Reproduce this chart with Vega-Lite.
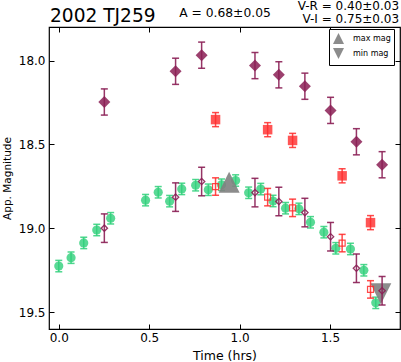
{
  "$schema": "https://vega.github.io/schema/vega-lite/v6.json",
  "width": 351,
  "height": 302,
  "autosize": "none",
  "padding": {"left": 49, "top": 27, "right": 1, "bottom": 33},
  "background": "white",
  "config": {
    "font": "DejaVu Sans",
    "view": {"stroke": "black", "strokeWidth": 1.2},
    "axis": {"grid": false, "domain": false, "tickColor": "black", "labelColor": "black", "titleColor": "black", "labelFontSize": 12, "titleFontWeight": "normal", "tickSize": -5, "tickWidth": 1}
  },
  "datasets": {
    "green": [
      {"t": 0.0, "m": 19.225, "e": 0.034},
      {"t": 0.068, "m": 19.175, "e": 0.034},
      {"t": 0.138, "m": 19.087, "e": 0.034},
      {"t": 0.21, "m": 19.01, "e": 0.034},
      {"t": 0.287, "m": 18.94, "e": 0.034},
      {"t": 0.48, "m": 18.832, "e": 0.034},
      {"t": 0.55, "m": 18.785, "e": 0.034},
      {"t": 0.613, "m": 18.838, "e": 0.034},
      {"t": 0.68, "m": 18.765, "e": 0.034},
      {"t": 0.757, "m": 18.743, "e": 0.034},
      {"t": 0.827, "m": 18.77, "e": 0.034},
      {"t": 0.9, "m": 18.74, "e": 0.034},
      {"t": 0.978, "m": 18.715, "e": 0.034},
      {"t": 1.05, "m": 18.788, "e": 0.034},
      {"t": 1.117, "m": 18.766, "e": 0.034},
      {"t": 1.185, "m": 18.837, "e": 0.034},
      {"t": 1.254, "m": 18.88, "e": 0.034},
      {"t": 1.328, "m": 18.884, "e": 0.034},
      {"t": 1.392, "m": 18.964, "e": 0.034},
      {"t": 1.466, "m": 19.023, "e": 0.034},
      {"t": 1.532, "m": 19.119, "e": 0.034},
      {"t": 1.613, "m": 19.123, "e": 0.034},
      {"t": 1.687, "m": 19.25, "e": 0.034},
      {"t": 1.753, "m": 19.444, "e": 0.034}
    ],
    "vband": [
      {"t": 0.252, "m": 18.247, "e": 0.078},
      {"t": 0.646, "m": 18.064, "e": 0.078},
      {"t": 0.79, "m": 17.968, "e": 0.078},
      {"t": 1.085, "m": 18.03, "e": 0.078},
      {"t": 1.217, "m": 18.085, "e": 0.078},
      {"t": 1.361, "m": 18.153, "e": 0.078},
      {"t": 1.503, "m": 18.297, "e": 0.078},
      {"t": 1.646, "m": 18.484, "e": 0.078},
      {"t": 1.788, "m": 18.621, "e": 0.078}
    ],
    "vshift": [
      {"t": 0.252, "m": 18.999, "e": 0.085},
      {"t": 0.646, "m": 18.814, "e": 0.085},
      {"t": 0.79, "m": 18.721, "e": 0.085},
      {"t": 1.085, "m": 18.787, "e": 0.085},
      {"t": 1.217, "m": 18.84, "e": 0.085},
      {"t": 1.361, "m": 18.906, "e": 0.085},
      {"t": 1.503, "m": 19.05, "e": 0.085},
      {"t": 1.646, "m": 19.238, "e": 0.085},
      {"t": 1.788, "m": 19.372, "e": 0.085}
    ],
    "rband": [
      {"t": 0.867, "m": 18.352, "e": 0.042},
      {"t": 1.155, "m": 18.412, "e": 0.042},
      {"t": 1.293, "m": 18.476, "e": 0.042},
      {"t": 1.567, "m": 18.687, "e": 0.042},
      {"t": 1.724, "m": 18.966, "e": 0.042}
    ],
    "rshift": [
      {"t": 0.867, "m": 18.751, "e": 0.052},
      {"t": 1.155, "m": 18.814, "e": 0.052},
      {"t": 1.293, "m": 18.878, "e": 0.052},
      {"t": 1.567, "m": 19.088, "e": 0.052},
      {"t": 1.724, "m": 19.364, "e": 0.052}
    ],
    "extrema": [
      {"t": 0.942, "m": 18.726, "kind": "max mag"},
      {"t": 1.781, "m": 19.39, "kind": "min mag"}
    ],
    "one": [{}]
  },
  "layer": [
    {
      "data": {"name": "green"},
      "mark": {"type": "errorbar", "ticks": {"size": 7, "color": "#2fd07a", "opacity": 0.85}, "color": "#2fd07a", "opacity": 0.85, "thickness": 1.5},
      "encoding": {
        "x": {"field": "t", "type": "quantitative", "scale": {"domain": [-0.054, 1.887], "nice": false, "zero": false}, "axis": null},
        "y": {"field": "m", "type": "quantitative", "scale": {"domain": [17.8, 19.6], "reverse": true, "nice": false, "zero": false}, "axis": null},
        "yError": {"field": "e"}
      }
    },
    {
      "data": {"name": "green"},
      "mark": {"type": "point", "shape": "circle", "filled": true, "size": 84, "color": "#2fd07a", "opacity": 0.8},
      "encoding": {
        "x": {"field": "t", "type": "quantitative", "scale": {"domain": [-0.054, 1.887], "nice": false, "zero": false},
          "axis": {"orient": "bottom", "values": [0, 0.5, 1, 1.5], "format": ".1f", "title": "Time (hrs)", "titleFontSize": 12.5, "labelPadding": 8, "titlePadding": 6}},
        "y": {"field": "m", "type": "quantitative", "scale": {"domain": [17.8, 19.6], "reverse": true, "nice": false, "zero": false},
          "axis": {"orient": "left", "values": [18, 18.5, 19, 19.5], "format": ".1f", "title": "App. Magnitude", "titleFontSize": 10.5, "labelPadding": 9, "titlePadding": 6}}
      }
    },
    {
      "data": {"name": "extrema"},
      "mark": {"type": "point", "filled": true, "size": 441, "color": "#808080", "opacity": 0.9},
      "encoding": {
        "x": {"field": "t", "type": "quantitative", "scale": {"domain": [-0.054, 1.887], "nice": false, "zero": false}, "axis": null},
        "y": {"field": "m", "type": "quantitative", "scale": {"domain": [17.8, 19.6], "reverse": true, "nice": false, "zero": false}, "axis": null},
        "shape": {"field": "kind", "type": "nominal",
          "scale": {"domain": ["max mag", "min mag"], "range": ["M0,-1L-1,1L1,1Z", "M0,1L-1,-1L1,-1Z"]},
          "legend": {"title": null, "orient": "none", "legendX": 280, "legendY": 2, "strokeColor": "black", "fillColor": "white", "padding": 3, "symbolSize": 121, "symbolFillColor": "#808080", "symbolStrokeColor": "#808080", "symbolOpacity": 0.9, "labelFontSize": 8, "labelOffset": 8, "rowPadding": -4}}
      }
    },
    {
      "data": {"name": "vband"},
      "mark": {"type": "errorbar", "ticks": {"size": 7, "color": "#8b1f55", "opacity": 0.9}, "color": "#8b1f55", "opacity": 0.9, "thickness": 1.5},
      "encoding": {
        "x": {"field": "t", "type": "quantitative", "scale": {"domain": [-0.054, 1.887], "nice": false, "zero": false}, "axis": null},
        "y": {"field": "m", "type": "quantitative", "scale": {"domain": [17.8, 19.6], "reverse": true, "nice": false, "zero": false}, "axis": null},
        "yError": {"field": "e"}
      }
    },
    {
      "data": {"name": "vband"},
      "mark": {"type": "point", "shape": "diamond", "filled": true, "size": 144, "color": "#8b1f55", "opacity": 0.85},
      "encoding": {
        "x": {"field": "t", "type": "quantitative", "scale": {"domain": [-0.054, 1.887], "nice": false, "zero": false}, "axis": null},
        "y": {"field": "m", "type": "quantitative", "scale": {"domain": [17.8, 19.6], "reverse": true, "nice": false, "zero": false}, "axis": null}
      }
    },
    {
      "data": {"name": "vshift"},
      "mark": {"type": "errorbar", "ticks": {"size": 7, "color": "#8b1f55", "opacity": 0.9}, "color": "#8b1f55", "opacity": 0.9, "thickness": 1.5},
      "encoding": {
        "x": {"field": "t", "type": "quantitative", "scale": {"domain": [-0.054, 1.887], "nice": false, "zero": false}, "axis": null},
        "y": {"field": "m", "type": "quantitative", "scale": {"domain": [17.8, 19.6], "reverse": true, "nice": false, "zero": false}, "axis": null},
        "yError": {"field": "e"}
      }
    },
    {
      "data": {"name": "vshift"},
      "mark": {"type": "point", "shape": "diamond", "filled": false, "size": 40, "color": "#8b1f55", "strokeWidth": 1.3, "opacity": 0.9},
      "encoding": {
        "x": {"field": "t", "type": "quantitative", "scale": {"domain": [-0.054, 1.887], "nice": false, "zero": false}, "axis": null},
        "y": {"field": "m", "type": "quantitative", "scale": {"domain": [17.8, 19.6], "reverse": true, "nice": false, "zero": false}, "axis": null}
      }
    },
    {
      "data": {"name": "rband"},
      "mark": {"type": "errorbar", "ticks": {"size": 7, "color": "#ff2a2a", "opacity": 0.85}, "color": "#ff2a2a", "opacity": 0.85, "thickness": 1.5},
      "encoding": {
        "x": {"field": "t", "type": "quantitative", "scale": {"domain": [-0.054, 1.887], "nice": false, "zero": false}, "axis": null},
        "y": {"field": "m", "type": "quantitative", "scale": {"domain": [17.8, 19.6], "reverse": true, "nice": false, "zero": false}, "axis": null},
        "yError": {"field": "e"}
      }
    },
    {
      "data": {"name": "rband"},
      "mark": {"type": "point", "shape": "square", "filled": true, "size": 90, "color": "#ff2a2a", "opacity": 0.8},
      "encoding": {
        "x": {"field": "t", "type": "quantitative", "scale": {"domain": [-0.054, 1.887], "nice": false, "zero": false},
          "axis": {"orient": "top", "values": [0, 0.5, 1, 1.5], "labels": false, "title": null}},
        "y": {"field": "m", "type": "quantitative", "scale": {"domain": [17.8, 19.6], "reverse": true, "nice": false, "zero": false},
          "axis": {"orient": "right", "values": [18, 18.5, 19, 19.5], "labels": false, "title": null}}
      }
    },
    {
      "data": {"name": "rshift"},
      "mark": {"type": "errorbar", "ticks": {"size": 7, "color": "#ff2a2a", "opacity": 0.85}, "color": "#ff2a2a", "opacity": 0.85, "thickness": 1.5},
      "encoding": {
        "x": {"field": "t", "type": "quantitative", "scale": {"domain": [-0.054, 1.887], "nice": false, "zero": false}, "axis": null},
        "y": {"field": "m", "type": "quantitative", "scale": {"domain": [17.8, 19.6], "reverse": true, "nice": false, "zero": false}, "axis": null},
        "yError": {"field": "e"}
      }
    },
    {
      "data": {"name": "rshift"},
      "mark": {"type": "point", "shape": "square", "filled": false, "size": 36, "color": "#ff2a2a", "strokeWidth": 1.2, "opacity": 0.85},
      "encoding": {
        "x": {"field": "t", "type": "quantitative", "scale": {"domain": [-0.054, 1.887], "nice": false, "zero": false}, "axis": null},
        "y": {"field": "m", "type": "quantitative", "scale": {"domain": [17.8, 19.6], "reverse": true, "nice": false, "zero": false}, "axis": null}
      }
    },
    {
      "data": {"name": "one"},
      "mark": {"type": "text", "align": "left", "baseline": "alphabetic", "fontSize": 18.6, "color": "black"},
      "encoding": {
        "x": {"datum": -0.0485, "type": "quantitative", "scale": {"domain": [-0.054, 1.887], "nice": false, "zero": false}, "axis": null},
        "y": {"datum": 17.770, "type": "quantitative", "scale": {"domain": [17.8, 19.6], "reverse": true, "nice": false, "zero": false}, "axis": null},
        "text": {"value": "2002 TJ259"}
      }
    },
    {
      "data": {"name": "one"},
      "mark": {"type": "text", "align": "left", "baseline": "alphabetic", "fontSize": 12.3, "color": "black"},
      "encoding": {
        "x": {"datum": 0.666, "type": "quantitative", "scale": {"domain": [-0.054, 1.887], "nice": false, "zero": false}, "axis": null},
        "y": {"datum": 17.742, "type": "quantitative", "scale": {"domain": [17.8, 19.6], "reverse": true, "nice": false, "zero": false}, "axis": null},
        "text": {"value": "A  = 0.68±0.05"}
      }
    },
    {
      "data": {"name": "one"},
      "mark": {"type": "text", "align": "right", "baseline": "alphabetic", "fontSize": 12, "color": "black"},
      "encoding": {
        "x": {"datum": 1.882, "type": "quantitative", "scale": {"domain": [-0.054, 1.887], "nice": false, "zero": false}, "axis": null},
        "y": {"datum": 17.700, "type": "quantitative", "scale": {"domain": [17.8, 19.6], "reverse": true, "nice": false, "zero": false}, "axis": null},
        "text": {"value": "V-R = 0.40±0.03"}
      }
    },
    {
      "data": {"name": "one"},
      "mark": {"type": "text", "align": "right", "baseline": "alphabetic", "fontSize": 12, "color": "black"},
      "encoding": {
        "x": {"datum": 1.882, "type": "quantitative", "scale": {"domain": [-0.054, 1.887], "nice": false, "zero": false}, "axis": null},
        "y": {"datum": 17.778, "type": "quantitative", "scale": {"domain": [17.8, 19.6], "reverse": true, "nice": false, "zero": false}, "axis": null},
        "text": {"value": "V-I  = 0.75±0.03"}
      }
    }
  ]
}
